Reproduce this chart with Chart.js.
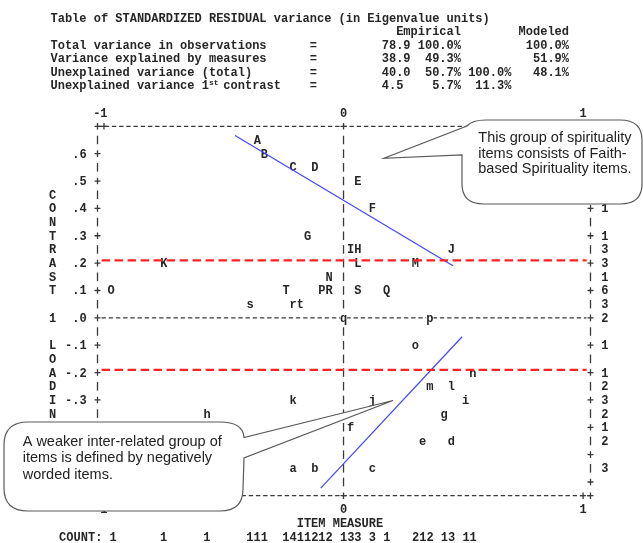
<!DOCTYPE html>
<html>
<head>
<meta charset="utf-8">
<script src="https://cdn.jsdelivr.net/npm/chart.js@4/dist/chart.umd.min.js"></script>
<style>
  body { margin: 0; background: #fff; }
  canvas { display: block; }
</style>
</head>
<body>
<canvas id="plot" width="643" height="543"></canvas>
<script>
// items: label, item measure (x) and contrast 1 loading (y)
const itemLabels = ['A','B','C','D','E','F','G','H','I','J','K','L','M','N','O','P','Q','R','S','T',
                    'a','b','c','d','e','f','g','h','i','j','k','l','m','n','o','p','q','r','s','t'];
const itemMeasures = [-0.36, -0.33, -0.21, -0.12, 0.06, 0.12, -0.15, 0.06, 0.03, 0.45,
                      -0.75, 0.06, 0.30, -0.06, -0.97, -0.09, 0.18, -0.06, 0.06, -0.24,
                      -0.21, -0.12, 0.12, 0.45, 0.33, 0.03, 0.42, -0.57, 0.51, 0.12,
                      -0.21, 0.45, 0.36, 0.54, 0.30, 0.36, 0.00, -0.21, -0.39, -0.18];
const itemLoadings = [0.65, 0.60, 0.55, 0.55, 0.50, 0.40, 0.30, 0.25, 0.25, 0.25,
                      0.20, 0.20, 0.20, 0.15, 0.10, 0.10, 0.10, 0.10, 0.10, 0.10,
                      -0.55, -0.55, -0.55, -0.45, -0.45, -0.40, -0.35, -0.35, -0.30, -0.30,
                      -0.30, -0.25, -0.25, -0.20, -0.10, 0.00, 0.00, 0.05, 0.05, 0.05];

// hand drawn overlays
const cutoffLoadings = [0.21, -0.19];
const cutoffFrom = -1.01, cutoffTo = 1.015;
const faithLineX = [-0.453, 0.457];
const faithLineY = [0.666, 0.190];
const negLineX = [-0.095, 0.495];
const negLineY = [-0.622, -0.069];

// axis ticks
const xTicks = [-1, 0, 1];
const xTickLabels = ['-1', '0', '1'];
const yTicks = [0.6, 0.5, 0.4, 0.3, 0.2, 0.1, 0, -0.1, -0.2, -0.3, -0.4, -0.5, -0.6];
const yTickLabels = ['.6', '.5', '.4', '.3', '.2', '.1', '.0', '-.1', '-.2', '-.3', '-.4', '-.5', '-.6'];
const yTitle = 'CONTRAST 1 LOADING';
const xTitle = 'ITEM MEASURE';
const countRow = 'COUNT: 1      1     1     111  1411212 133 3 1   212 13 11';

// variance table above the plot
const tableLines = [
  'Table of STANDARDIZED RESIDUAL variance (in Eigenvalue units)',
  '                                                Empirical        Modeled',
  'Total variance in observations      =         78.9 100.0%         100.0%',
  'Variance explained by measures      =         38.9  49.3%          51.9%',
  'Unexplained variance (total)        =         40.0  50.7% 100.0%   48.1%',
  'Unexplained variance 1  contrast    =         4.5    5.7%  11.3%'
];

const calloutTop = ['This group of spirituality', 'items consists of Faith-', 'based Spirituality items.'];
const calloutBottom = ['A weaker inter-related group of', 'items is defined by negatively', 'worded items.'];

const MONO = "bold 12px 'Liberation Mono', 'DejaVu Sans Mono', monospace";
const SANS = "14.5px 'Liberation Sans', Arial, sans-serif";
const CW = 7.2;        // width of one text column
const ROW = 0.05;      // one text row in loading units
const INK = '#262626';
const GRID = '#3a3a3a';

function plus(ctx, x, y) {
  ctx.beginPath();
  ctx.moveTo(x - 3, y); ctx.lineTo(x + 3, y);
  ctx.moveTo(x, y - 3.3); ctx.lineTo(x, y + 3.3);
  ctx.stroke();
}
function bar(ctx, x, y) {
  ctx.beginPath();
  ctx.moveTo(x, y - 4.3); ctx.lineTo(x, y + 4.3);
  ctx.stroke();
}
function hdash(ctx, x1, x2, y) {
  ctx.save();
  ctx.setLineDash([4.4, 2.8]);
  ctx.beginPath();
  ctx.moveTo(x1, y); ctx.lineTo(x2, y);
  ctx.stroke();
  ctx.restore();
}

const textPlot = {
  id: 'textPlot',
  beforeDraw(chart) {
    const ctx = chart.ctx;
    ctx.save();
    ctx.fillStyle = '#fff';
    ctx.fillRect(0, 0, chart.width, chart.height);
    ctx.restore();
  },
  beforeDatasetsDraw(chart) {
    const ctx = chart.ctx;
    const xs = chart.scales.x, ys = chart.scales.y;
    const { left: L, right: R, top: T, bottom: B } = chart.chartArea;
    const x0 = xs.getPixelForValue(0);
    const xm1 = xs.getPixelForValue(-1);
    const xp1 = xs.getPixelForValue(1);

    ctx.save();
    ctx.font = MONO;
    ctx.fillStyle = INK;
    ctx.textBaseline = 'alphabetic';

    // variance table
    ctx.textAlign = 'left';
    const tableY = [21.5, 35.2, 48.8, 62.3, 75.6, 89];
    tableLines.forEach((line, i) => ctx.fillText(line, 50.5, tableY[i]));
    ctx.font = "bold 8px 'Liberation Mono', monospace";
    ctx.fillText('st', 50.5 + 22 * CW, tableY[5] - 4);
    ctx.font = MONO;

    // frame
    ctx.strokeStyle = GRID;
    ctx.lineWidth = 1.3;
    hdash(ctx, L, R, T);
    hdash(ctx, L, R, B);
    hdash(ctx, L + 4, R - 4, ys.getPixelForValue(0));
    [L, xm1, x0, xp1, R].forEach(x => { plus(ctx, x, T); plus(ctx, x, B); });

    const nRows = Math.round((0.7 - (-0.65)) / ROW);
    for (let j = 1; j < nRows; j++) {
      const v = Math.round((0.7 - j * ROW) * 100) / 100;
      const y = ys.getPixelForValue(v);
      const major = Math.round(v * 100) % 10 === 0;
      if (major) { plus(ctx, L, y); plus(ctx, R, y); }
      else { bar(ctx, L, y); bar(ctx, R, y); }
      bar(ctx, x0, y);
    }

    // tick labels
    ctx.textAlign = 'right';
    yTicks.forEach((v, i) => ctx.fillText(yTickLabels[i], L - 10.8, ys.getPixelForValue(v) + 4));
    ctx.textAlign = 'center';
    yTitle.split('').forEach((ch, i) => {
      ctx.fillText(ch, L - 45, ys.getPixelForValue(0.45 - i * ROW) + 4);
    });
    xTicks.forEach((v, i) => {
      const lab = xTickLabels[i];
      const px = xs.getPixelForValue(v);
      const shift = lab.startsWith('-') ? -CW / 2 : 0;
      ctx.fillText(lab, px + shift, T - 13.7 + 4);
      ctx.fillText(lab, px + shift, B + 13.7 + 4);
    });
    ctx.fillText(xTitle, x0 - CW / 2, B + 27.4 + 4);
    ctx.textAlign = 'left';
    ctx.fillText(countRow, x0 - 39.5 * CW, B + 41 + 4);

    // number of items on each row, at the right side
    const rowCounts = {};
    itemLoadings.forEach(v => {
      const k = Math.round(v / ROW);
      rowCounts[k] = (rowCounts[k] || 0) + 1;
    });
    ctx.textAlign = 'center';
    Object.keys(rowCounts).forEach(k => {
      ctx.fillText(String(rowCounts[k]), R + 2 * CW, ys.getPixelForValue(k * ROW) + 4);
    });

    // item letters
    const meta = chart.getDatasetMeta(0);
    meta.data.forEach((pt, i) => {
      ctx.fillStyle = '#fff';
      ctx.fillRect(pt.x - CW / 2, pt.y - 5.5, CW, 11);
      ctx.fillStyle = INK;
      ctx.fillText(itemLabels[i], pt.x, pt.y + 4);
    });
    ctx.restore();
  },
  afterDraw(chart) {
    const ctx = chart.ctx;
    ctx.save();
    ctx.fillStyle = '#fff';
    ctx.strokeStyle = '#5a5a5a';
    ctx.lineWidth = 1.2;

    // upper right callout
    ctx.beginPath();
    ctx.moveTo(486, 120);
    ctx.lineTo(620, 120);
    ctx.quadraticCurveTo(642, 120, 642, 140);
    ctx.lineTo(642, 184);
    ctx.quadraticCurveTo(642, 204, 620, 204);
    ctx.lineTo(484, 204);
    ctx.quadraticCurveTo(462, 204, 462, 184);
    ctx.lineTo(462, 155);
    ctx.lineTo(384, 158.3);
    ctx.lineTo(467, 126);
    ctx.quadraticCurveTo(472, 120, 486, 120);
    ctx.closePath();
    ctx.fill();
    ctx.stroke();

    // lower left callout
    ctx.beginPath();
    ctx.moveTo(28, 422);
    ctx.lineTo(220, 422);
    ctx.quadraticCurveTo(243, 422, 244, 437.5);
    ctx.lineTo(393, 400.5);
    ctx.lineTo(244, 458);
    ctx.lineTo(243, 489);
    ctx.quadraticCurveTo(243, 511, 220, 511);
    ctx.lineTo(28, 511);
    ctx.quadraticCurveTo(4, 511, 4, 488);
    ctx.lineTo(4, 445);
    ctx.quadraticCurveTo(4, 422, 28, 422);
    ctx.closePath();
    ctx.fill();
    ctx.stroke();

    ctx.fillStyle = '#222';
    ctx.font = SANS;
    ctx.textAlign = 'left';
    ctx.textBaseline = 'alphabetic';
    calloutTop.forEach((t, i) => ctx.fillText(t, 478.3, 142 + i * 15.6));
    calloutBottom.forEach((t, i) => ctx.fillText(t, 22.7, 445.5 + i * 16.5));
    ctx.restore();
  }
};

const datasets = [{
  label: 'items',
  data: itemLabels.map((l, i) => ({ x: itemMeasures[i], y: itemLoadings[i] })),
  pointRadius: 0,
  pointHoverRadius: 0
}];
cutoffLoadings.forEach(c => datasets.push({
  type: 'line',
  data: [{ x: cutoffFrom, y: c }, { x: cutoffTo, y: c }],
  borderColor: '#ff2222',
  borderWidth: 2.2,
  borderDash: [8.5, 4.5],
  pointRadius: 0,
  fill: false
}));
datasets.push({
  type: 'line',
  data: faithLineX.map((x, i) => ({ x: x, y: faithLineY[i] })),
  borderColor: '#4444ff',
  borderWidth: 1.2,
  pointRadius: 0,
  fill: false
});
datasets.push({
  type: 'line',
  data: negLineX.map((x, i) => ({ x: x, y: negLineY[i] })),
  borderColor: '#4444ff',
  borderWidth: 1.2,
  pointRadius: 0,
  fill: false
});

new Chart(document.getElementById('plot').getContext('2d'), {
  type: 'scatter',
  data: { datasets: datasets },
  options: {
    responsive: false,
    animation: false,
    events: [],
    layout: { padding: { left: 97.5, right: 52.5, top: 126.3, bottom: 47.3 } },
    scales: {
      x: { type: 'linear', min: -1.027, max: 1.031, display: false },
      y: { type: 'linear', min: -0.65, max: 0.7, display: false }
    },
    plugins: { legend: { display: false }, tooltip: { enabled: false } }
  },
  plugins: [textPlot]
});
</script>
</body>
</html>
